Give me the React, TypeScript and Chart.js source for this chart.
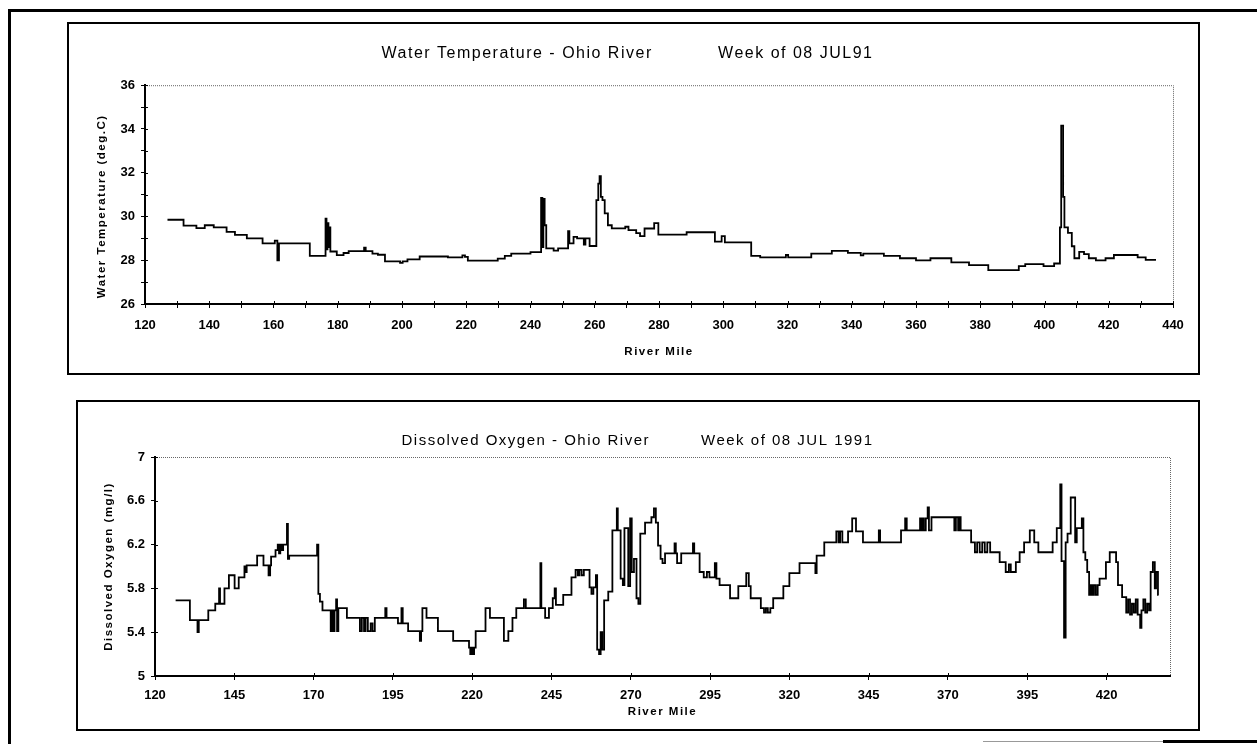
import React, { useEffect, useRef } from 'react';
import { Chart, registerables } from 'chart.js';

Chart.register(...registerables);

// ---------- Data ----------
// Water temperature (deg C) along the Ohio River, step segments starting at each mile
const tempMiles = [
  127, 132, 136, 138.6, 141.4, 145.4, 148, 151.7, 156.6, 160.4, 161.2, 161.7, 171.3,
  176.2, 176.5, 176.8, 177.1, 177.4, 177.7, 179.7, 181.8, 183.4, 188.2, 188.7, 190.8,
  192.5, 194.7, 199.4, 200.2, 201.7, 205.5, 214.3, 218.8, 219.6, 220.5, 229.8, 232, 234,
  240, 243.3, 243.7, 244.0, 244.4, 244.9, 247.2, 248.6, 251.7, 252.1, 253.4, 254.5,
  256.6, 257.1, 258.4, 260.5, 261.1, 261.5, 261.9, 262.4, 263.1, 264.1, 265.3, 269.5,
  270.5, 272.9, 274.1, 275.5, 278.5, 279.8, 288.6, 297.4, 299.5, 300.5, 308.7, 311.5,
  319.5, 320.2, 327.4, 333.8, 338.8, 342.8, 343.6, 350, 355, 360, 364.5, 371, 376.5,
  382.5, 392, 394, 399.7, 403, 404.8, 405.2, 405.8, 406.2, 407.3, 408.5, 409.3, 410.8,
  412.3, 413.8, 416, 419, 421.6, 429, 431.5, 434.7,
];
const tempValues = [
  29.85, 29.58, 29.47, 29.6, 29.5, 29.3, 29.16, 29.0, 28.77, 28.9, 28.0, 28.77, 28.2,
  29.9, 28.5, 29.7, 28.6, 29.5, 28.4, 28.23, 28.33, 28.42, 28.58, 28.42, 28.3,
  28.25, 27.95, 27.88, 27.95, 28.04, 28.17, 28.13, 28.22, 28.15, 27.98, 28.07, 28.2, 28.3,
  28.37, 30.85, 28.6, 30.8, 29.6, 28.54, 28.44, 28.54, 29.33, 28.77, 29.07, 29.0,
  28.72, 29.0, 28.65, 30.75, 31.5, 31.84, 30.9, 30.75, 30.14, 29.6, 29.46, 29.53,
  29.38, 29.24, 29.1, 29.45, 29.7, 29.17, 29.28, 28.85, 29.1, 28.82, 28.2, 28.13,
  28.24, 28.13, 28.3, 28.43, 28.34, 28.22, 28.3, 28.2, 28.09, 27.99, 28.09, 27.9, 27.78,
  27.55, 27.73, 27.82, 27.73, 27.85, 29.5, 34.15, 30.9, 29.5, 29.25, 28.64, 28.09, 28.38,
  28.28, 28.09, 27.99, 28.09, 28.24, 28.13, 28.02, 28.02,
];

// Dissolved oxygen (mg/l) along the Ohio River
const doMiles = [
  126.5, 131.0, 133.4, 133.8, 136.8, 139.0, 140.2, 140.5, 141.9, 143.3, 145.1, 146.4,
  148.2, 148.6, 148.9, 152.2, 154.2, 155.8, 156.3, 156.6, 158.0, 158.7, 159.1, 159.5,
  160.0, 160.4, 161.6, 161.9, 162.3, 171.1, 171.5, 172.0, 172.8, 175.4, 175.8, 176.2,
  176.6, 177.1, 177.4, 177.8, 180.5, 184.6, 185.2, 185.9, 186.4, 187.1, 188.0, 188.6,
  189.3, 192.6, 193.0, 196.6, 197.7, 198.1, 199.8, 203.5, 203.9, 204.3, 205.6, 209.2,
  214.0, 219.0, 219.4, 219.8, 220.2, 220.6, 221.1, 224.2, 225.6, 230.0, 231.4, 232.7,
  233.9, 236.3, 236.9, 241.5, 241.8, 243.0, 244.2, 245.4, 246.0, 246.4, 248.7, 251.3,
  252.6, 253.3, 253.8, 254.5, 255.2, 257.0, 257.6, 258.2, 259.0, 259.4, 260.0, 260.5,
  261.0, 261.6, 262.9, 264.2, 265.6, 265.9, 266.8, 267.5, 268.0, 269.2, 269.8, 270.3,
  271.0, 271.8, 272.4, 273.0, 274.5, 276.5, 277.3, 277.9, 278.6, 279.4, 280.0, 280.8,
  283.8, 284.2, 284.6, 285.9, 289.6, 290.0, 291.7, 293.0, 294.0, 294.8, 296.5, 297.0,
  298.0, 301.3, 303.9, 306.4, 307.2, 307.8, 311.0, 312.0, 312.6, 313.2, 314.0, 314.9,
  318.1, 320.0, 323.2, 328.2, 328.6, 331.0, 334.8, 335.5, 336.0, 336.7, 338.5, 339.8,
  341.0, 343.2, 348.2, 348.6, 355.2, 356.5, 357.0, 361.2, 361.6, 362.0, 362.4, 363.0,
  363.6, 364.0, 364.8, 372.0, 372.5, 373.2, 373.6, 374.0, 377.3, 378.5, 379.2, 380.0,
  380.8, 381.6, 382.4, 383.3, 386.3, 388.2, 389.2, 389.8, 391.4, 392.6, 394.0, 395.8,
  397.2, 398.5, 403.0, 404.3, 405.4, 405.8, 406.6, 407.1, 407.7, 408.7, 410.1, 410.6,
  412.2, 412.7, 413.3, 413.9, 414.5, 415.0, 415.5, 416.0, 416.6, 417.2, 417.8, 419.8,
  421.0, 423.0, 423.6, 424.9, 426.2, 426.8, 427.4, 428.0, 428.6, 429.2, 429.8, 430.6,
  431.0, 431.6, 432.2, 432.8, 433.4, 433.9, 434.6, 435.2, 435.6, 436.2, 436.4,
];
const doValues = [
  5.69, 5.51, 5.40, 5.51, 5.60, 5.66, 5.80, 5.66, 5.80, 5.92, 5.80, 5.90,
  6.00, 5.95, 6.01, 6.10, 6.01, 5.92, 6.01, 6.09, 6.15, 6.20, 6.12, 6.20,
  6.15, 6.20, 6.39, 6.07, 6.10, 6.20, 5.75, 5.68, 5.60, 5.41, 5.60, 5.41,
  5.60, 5.70, 5.41, 5.62, 5.53, 5.41, 5.53, 5.41, 5.53, 5.41, 5.48, 5.41,
  5.53, 5.62, 5.53, 5.48, 5.62, 5.48, 5.41, 5.32, 5.41, 5.62, 5.53, 5.41,
  5.32, 5.26, 5.20, 5.26, 5.20, 5.26, 5.41, 5.62, 5.53, 5.32, 5.41, 5.53,
  5.62, 5.70, 5.62, 6.03, 5.62, 5.53, 5.62, 5.71, 5.80, 5.65, 5.74, 5.90,
  5.97, 5.92, 5.97, 5.92, 5.97, 5.81, 5.75, 5.81, 5.92, 5.24, 5.20, 5.40,
  5.24, 5.69, 5.77, 6.33, 6.53, 6.33, 5.89, 5.83, 6.35, 5.82, 6.44, 5.95,
  6.07, 5.71, 5.66, 6.30, 6.40, 6.45, 6.53, 6.40, 6.19, 6.07, 6.03, 6.12,
  6.21, 6.12, 6.03, 6.12, 6.21, 6.12, 5.95, 5.90, 5.95, 5.90, 6.03, 5.89,
  5.83, 5.71, 5.82, 5.94, 5.82, 5.71, 5.62, 5.58, 5.62, 5.58, 5.62, 5.71,
  5.82, 5.94, 6.03, 5.94, 6.10, 6.22, 6.32, 6.22, 6.32, 6.22, 6.32, 6.44,
  6.32, 6.22, 6.33, 6.22, 6.33, 6.44, 6.33, 6.44, 6.33, 6.44, 6.33, 6.44,
  6.54, 6.33, 6.45, 6.33, 6.45, 6.33, 6.45, 6.33, 6.22, 6.13, 6.22, 6.13,
  6.22, 6.13, 6.22, 6.13, 6.04, 5.95, 6.02, 5.95, 6.04, 6.13, 6.22, 6.33,
  6.22, 6.13, 6.22, 6.35, 6.75, 6.05, 5.35, 6.22, 6.30, 6.63, 6.22, 6.35,
  6.44, 6.13, 6.06, 5.95, 5.74, 5.83, 5.74, 5.83, 5.74, 5.83, 5.89, 6.04,
  6.13, 6.04, 5.83, 5.72, 5.58, 5.70, 5.56, 5.66, 5.58, 5.70, 5.56, 5.44,
  5.60, 5.70, 5.58, 5.66, 5.60, 5.95, 6.04, 5.80, 5.95, 5.74, 5.74,
];

const tempXTicks = [120, 130, 140, 150, 160, 170, 180, 190, 200, 210, 220, 230, 240, 250, 260, 270, 280, 290, 300, 310, 320, 330, 340, 350, 360, 370, 380, 390, 400, 410, 420, 430, 440];
const tempYTicks = [26, 27, 28, 29, 30, 31, 32, 33, 34, 35, 36];
const doXTicks = [120, 145, 170, 195, 220, 245, 270, 295, 320, 345, 370, 395, 420];
const doYTicks = [5, 5.4, 5.8, 6.2, 6.6, 7];

const tempTitle = 'Water Temperature - Ohio River';
const tempWeek = 'Week of 08 JUL91';
const doTitle = 'Dissolved Oxygen - Ohio River';
const doWeek = 'Week of 08 JUL 1991';

const FONT = "'Liberation Sans', Arial, Helvetica, sans-serif";

// ---------- Plugins ----------
// wide letter spacing for titles (drawn before datasets), none for tick labels (drawn after)
const spacingPlugin = {
  id: 'letterSpacing',
  beforeDraw(chart: any) {
    chart.ctx.letterSpacing = '1.5px';
  },
  afterDatasetsDraw(chart: any) {
    chart.ctx.letterSpacing = '0px';
  },
  afterDraw(chart: any) {
    chart.ctx.letterSpacing = '0px';
  },
};

const framePlugin = {
  id: 'dottedFrame',
  beforeDatasetsDraw(chart: any) {
    const { ctx, chartArea } = chart;
    const { left, top, right, bottom } = chartArea;
    ctx.save();
    ctx.strokeStyle = '#666';
    ctx.lineWidth = 1;
    ctx.setLineDash([1, 1]);
    ctx.beginPath();
    ctx.moveTo(left, top + 0.5);
    ctx.lineTo(right + 0.5, top + 0.5);
    ctx.lineTo(right + 0.5, bottom);
    ctx.stroke();
    ctx.restore();
    // tick marks crossing into the plot area
    ctx.save();
    ctx.strokeStyle = '#000';
    ctx.lineWidth = 1;
    ctx.beginPath();
    const xs = chart.scales.x;
    const ys = chart.scales.y;
    xs.ticks.forEach((t: any) => {
      const px = Math.round(xs.getPixelForValue(t.value)) + 0.5;
      ctx.moveTo(px, bottom);
      ctx.lineTo(px, bottom - 3);
    });
    ys.ticks.forEach((t: any) => {
      const py = Math.round(ys.getPixelForValue(t.value)) + 0.5;
      ctx.moveTo(left, py);
      ctx.lineTo(left + 3, py);
    });
    ctx.stroke();
    ctx.restore();
  },
};

type ChartSpec = {
  miles: number[];
  values: number[];
  xTicks: number[];
  yTicks: number[];
  xMin: number;
  xMax: number;
  yMin: number;
  yMax: number;
  xLabel: (v: number) => string;
  yLabel: (v: number) => string;
  title: string;
  titleSize: number;
  titlePad: { top: number; bottom: number };
  padLeft: number;
  padRight: number;
  yWidth: number;
  xHeight: number;
  xTickPad: number;
  xTitlePadBottom: number;
  yTitle: string;
  yTitlePadTop: number;
};

function buildConfig(s: ChartSpec): any {
  const tickFont = { family: FONT, size: 13, weight: 'bold' as const };
  const axisFont = { family: FONT, size: 11.5, weight: 'bold' as const };
  return {
    type: 'line',
    data: {
      datasets: [
        {
          data: s.miles.map((m, i) => ({ x: m, y: s.values[i] })),
          borderColor: '#000',
          borderWidth: 1.8,
          pointRadius: 0,
          stepped: true,
          fill: false,
          tension: 0,
        },
      ],
    },
    options: {
      animation: false,
      responsive: false,
      devicePixelRatio: 1,
      layout: { padding: { left: s.padLeft, right: s.padRight, top: 0, bottom: 0 } },
      plugins: {
        legend: { display: false },
        tooltip: { enabled: false },
        title: {
          display: true,
          text: s.title,
          color: '#000',
          font: { family: FONT, size: s.titleSize, weight: 'normal' },
          padding: s.titlePad,
        },
      },
      scales: {
        x: {
          type: 'linear',
          min: s.xMin,
          max: s.xMax,
          afterBuildTicks: (sc: any) => {
            sc.ticks = s.xTicks.map((v) => ({ value: v }));
          },
          afterFit: (sc: any) => {
            sc.height = s.xHeight;
          },
          ticks: {
            autoSkip: false,
            maxRotation: 0,
            minRotation: 0,
            padding: s.xTickPad,
            color: '#000',
            font: tickFont,
            z: 1,
            callback: (v: any) => s.xLabel(Number(v)),
          },
          grid: { display: true, drawOnChartArea: false, drawTicks: true, tickLength: 4, color: '#000', lineWidth: 1 },
          border: { display: true, color: '#000', width: 2 },
          title: {
            display: true,
            text: 'River Mile',
            color: '#000',
            font: axisFont,
            padding: { top: 0, bottom: s.xTitlePadBottom },
          },
        },
        y: {
          type: 'linear',
          min: s.yMin,
          max: s.yMax,
          afterBuildTicks: (sc: any) => {
            sc.ticks = s.yTicks.map((v) => ({ value: v }));
          },
          afterFit: (sc: any) => {
            sc.width = s.yWidth;
          },
          ticks: {
            autoSkip: false,
            padding: 6,
            color: '#000',
            font: tickFont,
            z: 1,
            callback: (v: any) => s.yLabel(Number(v)),
          },
          grid: { display: true, drawOnChartArea: false, drawTicks: true, tickLength: 4, color: '#000', lineWidth: 1 },
          border: { display: true, color: '#000', width: 2 },
          title: {
            display: true,
            text: s.yTitle,
            color: '#000',
            font: axisFont,
            padding: { top: s.yTitlePadTop, bottom: 0 },
          },
        },
      },
    },
    plugins: [spacingPlugin, framePlugin],
  };
}

function ChartCanvas(props: { spec: ChartSpec; left: number; top: number; width: number; height: number }) {
  const ref = useRef<HTMLCanvasElement | null>(null);
  useEffect(() => {
    if (!ref.current) return;
    const chart = new Chart(ref.current, buildConfig(props.spec));
    return () => chart.destroy();
  }, []);
  return (
    <canvas
      ref={ref}
      width={props.width}
      height={props.height}
      style={{ position: 'absolute', left: props.left, top: props.top, width: props.width, height: props.height }}
    />
  );
}

const tempSpec: ChartSpec = {
  miles: tempMiles,
  values: tempValues,
  xTicks: tempXTicks,
  yTicks: tempYTicks,
  xMin: 120,
  xMax: 440,
  yMin: 26,
  yMax: 36,
  xLabel: (v) => (v % 20 === 0 ? String(v) : ''),
  yLabel: (v) => (v % 2 === 0 ? String(v) : ''),
  title: tempTitle + ' '.repeat(11) + tempWeek,
  titleSize: 16,
  titlePad: { top: 20, bottom: 22 },
  padLeft: 13,
  padRight: 25,
  yWidth: 63,
  xHeight: 69,
  xTickPad: 9.2,
  xTitlePadBottom: 14.1,
  yTitle: 'Water Temperature (deg.C)     ',
  yTitlePadTop: 13.1,
};

const doSpec: ChartSpec = {
  miles: doMiles,
  values: doValues,
  xTicks: doXTicks,
  yTicks: doYTicks,
  xMin: 120,
  xMax: 440,
  yMin: 5,
  yMax: 7,
  xLabel: (v) => String(v),
  yLabel: (v) => String(Number(v.toFixed(1))),
  title: doTitle + ' '.repeat(9) + doWeek,
  titleSize: 15,
  titlePad: { top: 30, bottom: 7 },
  padLeft: 27,
  padRight: 28,
  yWidth: 50,
  xHeight: 53,
  xTickPad: 7.2,
  xTitlePadBottom: 10.1,
  yTitle: 'Dissolved Oxygen (mg/l)',
  yTitlePadTop: -2.9,
};

export default function App() {
  return (
    <div style={{ position: 'fixed', left: 0, top: 0, width: 1257, height: 744, overflow: 'hidden', background: '#fff' }}>
      {/* outer page frame */}
      <div
        style={{
          position: 'absolute',
          left: 8,
          top: 9,
          width: 1400,
          height: 900,
          borderLeft: '3px solid #000',
          borderTop: '3px solid #000',
        }}
      />
      {/* bottom-right page line */}
      <div style={{ position: 'absolute', left: 983, top: 741, width: 180, height: 1, background: '#999' }} />
      <div style={{ position: 'absolute', left: 1163, top: 740, width: 100, height: 3, background: '#000' }} />
      {/* top chart box */}
      <div
        style={{
          position: 'absolute',
          left: 67,
          top: 22,
          width: 1133,
          height: 353,
          boxSizing: 'border-box',
          border: '2px solid #000',
        }}
      />
      {/* bottom chart box */}
      <div
        style={{
          position: 'absolute',
          left: 76,
          top: 400,
          width: 1124,
          height: 331,
          boxSizing: 'border-box',
          border: '2px solid #000',
        }}
      />
      <ChartCanvas spec={tempSpec} left={69} top={24} width={1129} height={349} />
      <ChartCanvas spec={doSpec} left={78} top={402} width={1120} height={327} />
    </div>
  );
}
